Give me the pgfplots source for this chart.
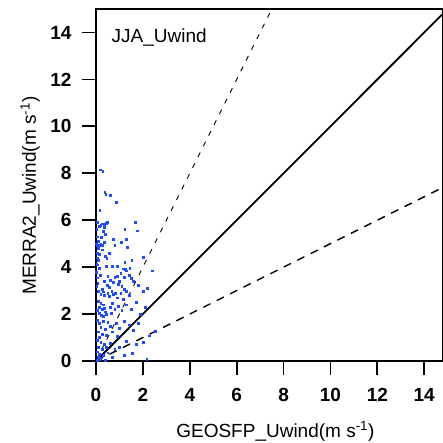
\documentclass[border=0pt]{standalone}
\usepackage{pgfplots}
\pgfplotsset{compat=1.18}
\usepackage{fontspec}
\setmainfont{Liberation Sans}
\definecolor{ptblue}{rgb}{0.12,0.30,1.0}
\begin{document}
\begin{tikzpicture}
\useasboundingbox (-96pt,-81pt) rectangle (347pt,361pt);
\begin{axis}[
  at={(0pt,0pt)}, anchor=south west,
  scale only axis, width=347pt, height=352pt,
  xmin=0, xmax=14.8, ymin=0, ymax=15,
  xtick={0,2,...,14}, ytick={0,2,...,14},
  xtick pos=bottom, ytick pos=left,
  tick align=outside, major tick length=14pt,
  tick style={line width=1.8pt, black},
  axis line style={line width=1.8pt},
  /pgf/number format/assume math mode=true,
  ticklabel style={font=\fontsize{19}{21}\selectfont\bfseries},
  xticklabel style={yshift=-10pt},
  yticklabel style={xshift=-7pt},
  xlabel={GEOSFP\_Uwind(m s\textsuperscript{-1})},
  ylabel={MERRA2\_Uwind(m s\textsuperscript{-1})},
  label style={font=\fontsize{19}{21}\selectfont},
  xlabel style={at={(axis description cs:0.517,0)}, anchor=base, yshift=-76pt},
  ylabel style={at={(axis description cs:-0.19,0.47)}, anchor=center},
  clip=true,
]
\addplot[only marks, mark=square*, mark size=0.9pt, ptblue, mark options={draw=none}] coordinates {
(0.17,8.15)(0.29,8.08)(0.37,7.18)(0.41,7.11)(0.61,7.07)(0.85,6.77)(0.16,6.42)(0.06,5.93)(0.43,5.88)(0.48,5.93)(0.36,5.82)(0.34,5.69)(1.66,5.92)(1.22,5.63)
(0.31,5.52)(1.75,5.55)(0.21,5.28)(0.40,5.40)(0.74,5.18)(1.07,5.07)(1.28,5.18)(0.06,4.95)(0.17,4.95)(0.28,4.95)(0.80,4.92)(0.28,4.74)(1.34,4.84)(0.40,4.48)(0.46,4.38)(1.52,4.28)(1.22,4.21)(2.03,4.41)(0.03,4.13)(0.06,4.10)(0.68,4.03)(0.90,4.03)(1.14,3.93)(1.24,3.90)(1.30,3.85)(1.44,3.94)(2.38,3.85)(1.05,3.74)(1.42,3.66)(0.17,3.65)(0.80,3.57)(0.90,3.60)(1.19,3.58)(1.50,3.53)(1.59,3.41)(0.60,3.46)(1.00,3.41)(0.07,3.33)(0.48,3.24)(0.95,3.27)(1.80,3.24)(0.10,2.98)(0.30,2.95)(0.67,2.96)(0.82,2.90)(1.30,2.98)(2.00,2.96)(2.19,3.10)
(0.03,5.6)(0.05,5.3)(0.02,5.0)(0.04,4.6)(0.05,4.4)(0.02,3.8)(0.04,3.55)(0.03,3.2)(0.1,5.1)(0.12,4.55)(0.14,5.75)(0.2,5.8)(0.24,5.85)(0.2,5.0)(0.1,4.3)(0.09,4.8)(0.35,5.05)(0.45,4.05)(0.55,4.6)(0.15,3.95)(0.5,3.6)(0.35,3.4)(0.25,3.05)(0.58,3.15)(1.2,3.05)(0.72,3.35)(1.1,3.2)
(0.2,2.85)(0.35,2.8)(0.5,2.9)(0.55,2.75)(0.75,2.85)(0.9,2.7)(1.05,2.9)(1.4,2.8)(1.15,2.65)
(0.1,2.55)(0.2,2.45)(0.3,2.4)(0.15,2.3)(0.25,2.2)(0.35,2.25)(0.05,2.15)(0.4,2.1)(0.12,2.05)(0.22,1.95)(0.32,1.9)(0.45,2.0)(0.6,2.3)(0.7,2.45)(0.8,2.2)(0.95,2.35)(0.65,2.05)(1.1,2.15)(1.3,2.4)(1.5,2.2)(1.7,2.5)(2.1,2.3)(1.9,2.0)
(0.05,1.75)(0.15,1.6)(0.3,1.7)(0.5,1.65)(0.2,1.45)(0.4,1.35)(0.08,1.25)(0.6,1.5)(0.85,1.6)(0.25,1.15)(0.45,1.1)(0.7,1.25)(1.0,1.4)(1.2,1.7)(1.4,1.55)(1.6,1.3)(1.8,1.6)(2.27,1.08)(2.53,1.28)(0.9,1.05)(0.15,1.0)
(0.05,0.9)(0.2,0.8)(0.35,0.7)(0.1,0.6)(0.25,0.5)(0.45,0.6)(0.6,0.75)(0.05,0.4)(0.15,0.3)(0.3,0.25)(0.08,0.15)(0.12,0.08)(0.2,0.12)(0.04,0.05)(0.5,0.35)(0.8,0.5)(1.0,0.6)(1.21,0.26)(1.54,0.33)(2.16,0.09)(1.3,0.85)(0.7,0.15)(0.4,0.05)(1.7,0.7)(2.0,0.8)
};
\addplot[black, line width=1.8pt] coordinates {(0,0)(15,15)};
\addplot[black, line width=0.9pt, dash pattern=on 5pt off 7pt] coordinates {(0,0)(7.5,15)};
\addplot[black, line width=1.4pt, dash pattern=on 8pt off 7pt] coordinates {(0,0)(15,7.5)};
\node[anchor=base west, font=\fontsize{19}{21}\selectfont] at (axis description cs:0.035,0.906) {JJA\_Uwind};
\end{axis}
\end{tikzpicture}
\end{document}
